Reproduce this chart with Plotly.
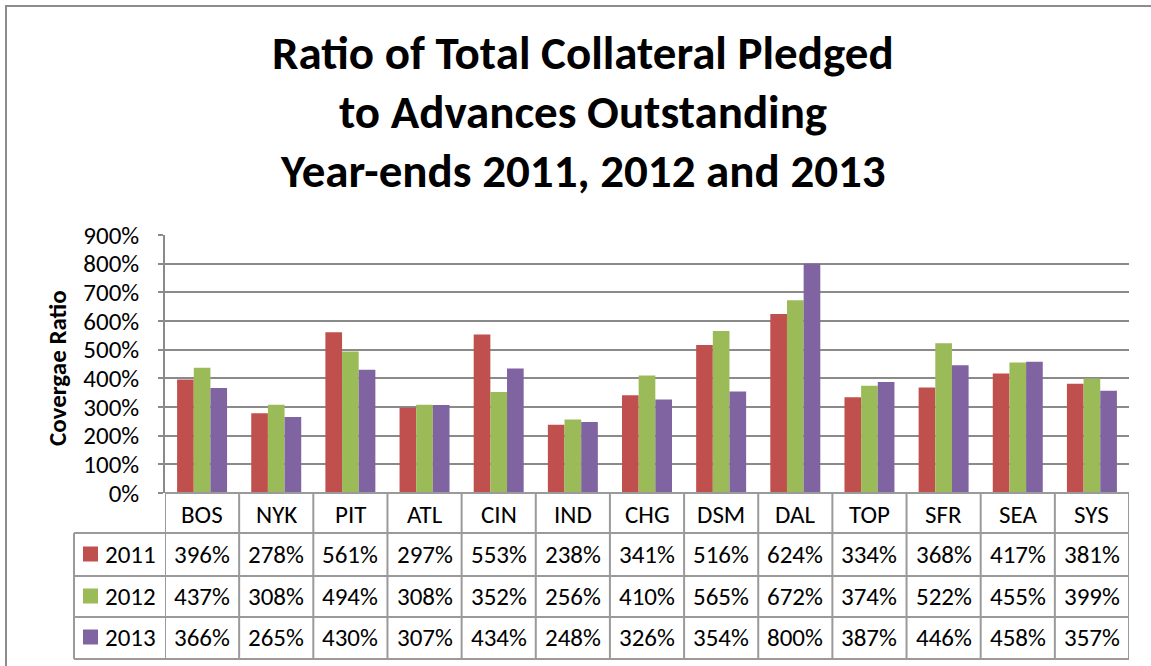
import plotly.graph_objects as go

categories = ["BOS", "NYK", "PIT", "ATL", "CIN", "IND", "CHG", "DSM", "DAL", "TOP", "SFR", "SEA", "SYS"]
years = ["2011", "2012", "2013"]
v2011 = [396, 278, 561, 297, 553, 238, 341, 516, 624, 334, 368, 417, 381]
v2012 = [437, 308, 494, 308, 352, 256, 410, 565, 672, 374, 522, 455, 399]
v2013 = [366, 265, 430, 307, 434, 248, 326, 354, 800, 387, 446, 458, 357]
series = [v2011, v2012, v2013]
colors = ["#C0504D", "#9BBB59", "#8064A2"]
y_ticks = [0, 100, 200, 300, 400, 500, 600, 700, 800, 900]
title_lines = ["Ratio of Total Collateral Pledged", "to Advances Outstanding", "Year-ends 2011, 2012 and 2013"]
y_title = "Covergae Ratio"

W, H = 1151, 666
L, R, T, B = 165, 22, 235, 173
PW = W - L - R
PH = H - T - B
BOTTOM = H - B

def px_x(px):
    return (px - L) / PW

def px_y(py):
    return (BOTTOM - py) / PH

FONT = "Calibri, Carlito, 'Open Sans', sans-serif"
GRID = "#8a8a8a"
TBL = "#9a9a9a"
FS = 25

fig = go.Figure()
for name, vals, col in zip(years, series, colors):
    fig.add_trace(go.Bar(x=categories, y=vals, name=name, marker=dict(color=col, line=dict(width=0))))

fig.update_layout(
    width=W, height=H,
    margin=dict(l=L, r=R, t=T, b=B, pad=0),
    paper_bgcolor="white", plot_bgcolor="white",
    barmode="group", bargap=0.326, bargroupgap=0,
    showlegend=False,
    font=dict(family=FONT, color="black", size=FS),
)
fig.update_xaxes(showticklabels=False, showline=False, showgrid=False, zeroline=False,
                 range=[-0.5, len(categories) - 0.5])
fig.update_yaxes(range=[0, 900], tickvals=y_ticks, ticktext=[f"{v}%" for v in y_ticks],
                 showgrid=True, gridcolor=GRID, gridwidth=1.5, zeroline=False,
                 showline=True, linecolor=GRID, linewidth=1.5,
                 ticks="outside", ticklen=5, tickcolor=GRID, tickwidth=1.5,
                 ticklabelstandoff=14, tickfont=dict(size=FS, family=FONT))

shapes = []
# outer chart border
shapes.append(dict(type="rect", xref="paper", yref="paper", x0=px_x(6), x1=px_x(1200),
                   y0=px_y(700), y1=px_y(6), line=dict(color="#8c8c8c", width=2), fillcolor="rgba(0,0,0,0)"))
# table horizontal lines
row_lines = [533, 576, 617, 659]
shapes.append(dict(type="line", xref="paper", yref="paper", x0=0, x1=1, y0=px_y(493), y1=px_y(493),
                   line=dict(color=TBL, width=2)))
for ry in row_lines:
    shapes.append(dict(type="line", xref="paper", yref="paper", x0=px_x(74), x1=1, y0=px_y(ry), y1=px_y(ry),
                       line=dict(color=TBL, width=2)))
# table vertical lines
for i in range(len(categories) + 1):
    shapes.append(dict(type="line", xref="x", yref="paper", x0=i - 0.5, x1=i - 0.5,
                       y0=px_y(493), y1=px_y(659), line=dict(color=TBL, width=2)))
shapes.append(dict(type="line", xref="paper", yref="paper", x0=px_x(74), x1=px_x(74),
                   y0=px_y(533), y1=px_y(659), line=dict(color=TBL, width=2)))

row_centers = [554, 596, 637]
for yr, col, rc in zip(years, colors, row_centers):
    shapes.append(dict(type="rect", xref="paper", yref="paper", x0=px_x(83), x1=px_x(98),
                       y0=px_y(rc + 7.5), y1=px_y(rc - 7.5), line=dict(width=0), fillcolor=col))

annotations = []
title_y = [53, 112, 171]
for line, ty in zip(title_lines, title_y):
    annotations.append(dict(text=f"<b>{line}</b>", xref="paper", yref="paper", x=px_x(583), y=px_y(ty),
                            xanchor="center", yanchor="middle", showarrow=False,
                            font=dict(size=47, family=FONT, color="black")))
annotations.append(dict(text=f"<b>{y_title}</b>", xref="paper", yref="paper", x=px_x(57), y=px_y(368),
                        textangle=-90, xanchor="center", yanchor="middle", showarrow=False,
                        font=dict(size=25, family=FONT, color="black")))
for c in categories:
    annotations.append(dict(text=c, xref="x", yref="paper", x=c, y=px_y(514),
                            xanchor="center", yanchor="middle", showarrow=False,
                            font=dict(size=FS, family=FONT)))
for yr, vals, rc in zip(years, series, row_centers):
    annotations.append(dict(text=yr, xref="paper", yref="paper", x=px_x(103), y=px_y(rc),
                            xanchor="left", yanchor="middle", showarrow=False,
                            font=dict(size=FS, family=FONT)))
    for c, v in zip(categories, vals):
        annotations.append(dict(text=f"{v}%", xref="x", yref="paper", x=c, y=px_y(rc),
                                xanchor="center", yanchor="middle", showarrow=False,
                                font=dict(size=FS, family=FONT)))

fig.update_layout(shapes=shapes, annotations=annotations)
fig.write_html("out.html", config={"displayModeBar": False},
               post_script="document.body.style.margin='0';document.body.style.overflow='hidden';")
